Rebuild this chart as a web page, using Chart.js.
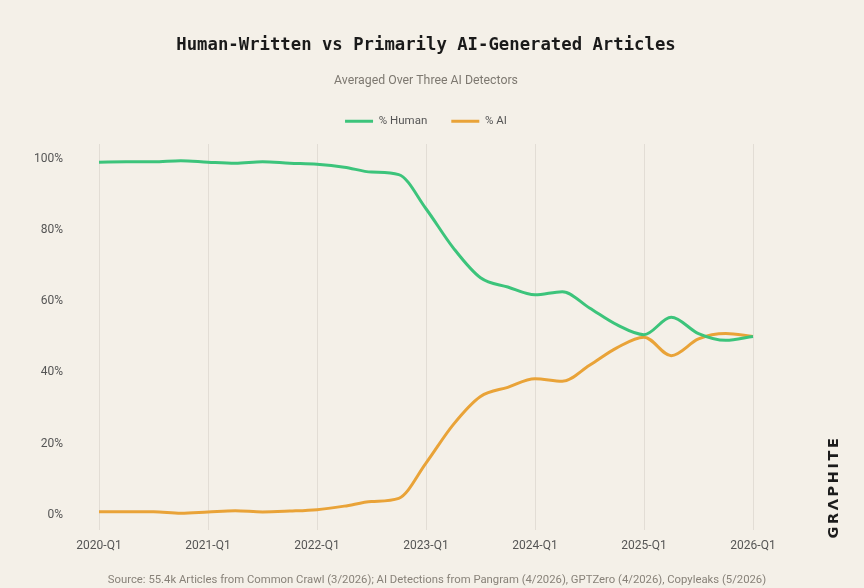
<!DOCTYPE html>
<html><head><meta charset="utf-8">
<script src="https://cdn.jsdelivr.net/npm/chart.js@4/dist/chart.umd.min.js"></script>
<style>
html,body{margin:0;padding:0;background:#F4F0E8;}
#wrap{width:864px;height:588px;position:relative;}
</style></head>
<body><div id="wrap"><canvas id="c" width="864" height="588"></canvas></div>
<script>
const quarters = ["2020-Q1","2020-Q2","2020-Q3","2020-Q4","2021-Q1","2021-Q2","2021-Q3","2021-Q4","2022-Q1","2022-Q2","2022-Q3","2022-Q4","2023-Q1","2023-Q2","2023-Q3","2023-Q4","2024-Q1","2024-Q2","2024-Q3","2024-Q4","2025-Q1","2025-Q2","2025-Q3","2025-Q4","2026-Q1"];
const humanPct = [99.1,99.2,99.2,99.5,99.1,98.8,99.2,98.8,98.5,97.7,96.3,95.6,86.0,75.0,66.6,64.0,61.8,62.7,58.1,53.4,50.6,55.5,50.9,49.0,50.1];
const aiPct = [0.85,0.85,0.85,0.4,0.75,1.1,0.75,1.0,1.4,2.4,3.7,4.6,14.5,25.3,33.2,35.8,38.2,37.5,42.0,46.9,49.9,44.7,49.4,50.9,50.1];
const yTicks = [0,20,40,60,80,100];
const titleText = "Human-Written vs Primarily AI-Generated Articles";
const subtitleText = "Averaged Over Three AI Detectors";
const sourceText = "Source: 55.4k Articles from Common Crawl (3/2026); AI Detections from Pangram (4/2026), GPTZero (4/2026), Copyleaks (5/2026)";
const brandText = "GR\u039BPHITE";

const LABEL_FONT = "'Roboto', sans-serif";

const extras = {
  id: 'extras',
  beforeUpdate(chart){
    const lg = chart.legend;
    if (lg && !lg._patched) {
      const f = lg.fit.bind(lg);
      lg.fit = function(){ f(); this.height += 7; };
      lg._patched = true;
    }
  },
  beforeDraw(chart){
    const ctx = chart.ctx;
    ctx.save();
    ctx.fillStyle = '#F4F0E8';
    ctx.fillRect(0,0,chart.width,chart.height);
    ctx.restore();
  },
  afterDraw(chart){
    const ctx = chart.ctx;
    ctx.save();
    ctx.fillStyle = '#888279';
    ctx.font = "11.3px " + LABEL_FONT;
    ctx.textAlign = 'center';
    ctx.textBaseline = 'middle';
    ctx.fillText(sourceText, 437, 580);
    ctx.translate(834, 487);
    ctx.rotate(-Math.PI/2);
    ctx.fillStyle = '#1c1c1c';
    ctx.font = "bold 14.5px 'DejaVu Sans', sans-serif";
    ctx.letterSpacing = '2.6px';
    ctx.fillText(brandText, 0, 0);
    ctx.restore();
  }
};

new Chart(document.getElementById('c'), {
  type: 'line',
  data: {
    labels: quarters,
    datasets: [
      {label: '% Human', data: humanPct, borderColor: '#3CC47B', backgroundColor: '#3CC47B', borderWidth: 3, pointRadius: 0, cubicInterpolationMode: 'monotone', fill: false},
      {label: '% AI', data: aiPct, borderColor: '#E9A338', backgroundColor: '#E9A338', borderWidth: 3, pointRadius: 0, cubicInterpolationMode: 'monotone', fill: false}
    ]
  },
  options: {
    responsive: false,
    animation: false,
    layout: {padding: {left: 0, right: 12, top: 0, bottom: 26}},
    plugins: {
      title: {display: true, text: titleText, color: '#1a1a1a', font: {family: "'DejaVu Sans Mono', monospace", size: 17.3, weight: 'bold'}, padding: {top: 35, bottom: 18}},
      subtitle: {display: true, text: subtitleText, color: '#7d7870', font: {family: LABEL_FONT, size: 12.3}, padding: {top: 0, bottom: 3}},
      legend: {display: true, position: 'top', align: 'center',
        labels: {boxWidth: 28, boxHeight: 3, color: '#555', padding: 24, font: {family: LABEL_FONT, size: 11.5},
          generateLabels: (chart) => Chart.defaults.plugins.legend.labels.generateLabels(chart).map(l => Object.assign(l, {lineWidth: 0}))}},
      tooltip: {enabled: false}
    },
    scales: {
      x: {
        type: 'category', offset: false,
        grid: {display: true, drawTicks: false, color: (c) => (c.index % 4 === 0 ? '#E2DDD5' : 'rgba(0,0,0,0)'), lineWidth: 1},
        border: {display: false},
        ticks: {autoSkip: false, maxRotation: 0, padding: 9, color: '#555', font: {family: LABEL_FONT, size: 12},
          callback: function(v, i){ return i % 4 === 0 ? quarters[i] : ''; }}
      },
      y: {
        min: -4.2, max: 104.2,
        afterBuildTicks: (s) => { s.ticks = yTicks.map(v => ({value: v})); },
        afterFit: (s) => { s.width = 99; },
        grid: {display: false, drawTicks: false},
        border: {display: false},
        ticks: {padding: 36, color: '#555', font: {family: LABEL_FONT, size: 12}, callback: (v) => v + '%'}
      },
      yRight: {
        type: 'linear', position: 'right', display: true, min: 0, max: 100,
        afterFit: (s) => { s.width = 99; },
        grid: {display: false, drawTicks: false},
        border: {display: false},
        ticks: {display: false}
      }
    }
  },
  plugins: [extras]
});
</script></body></html>
